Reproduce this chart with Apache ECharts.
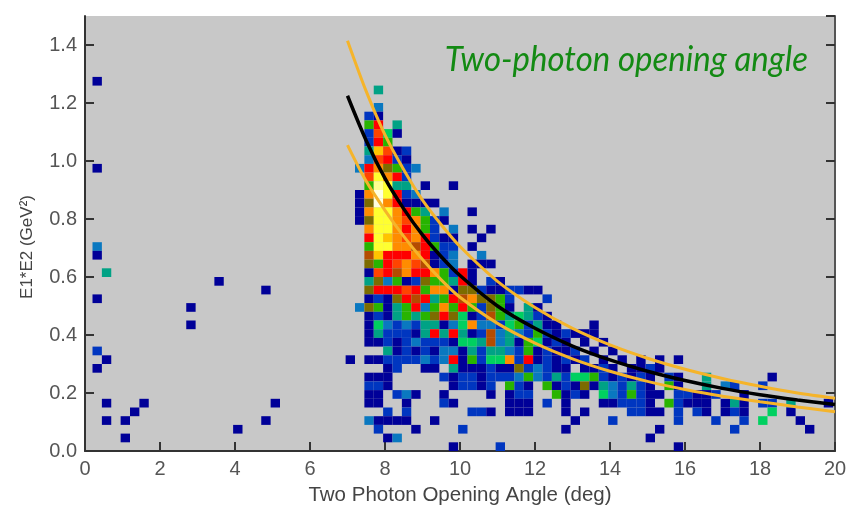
<!DOCTYPE html>
<html><head><meta charset="utf-8">
<script src="https://cdn.jsdelivr.net/npm/echarts@6/dist/echarts.min.js"></script>
<style>html,body{margin:0;padding:0;background:#fff}#c{width:862px;height:511px}</style>
</head><body><div id="c"></div>
<script>
// ---- binning of the 2D histogram ----
const xBinStart = 0.2, xBinWidth = 0.25, yBinHeight = 0.03;

// colour level per bin (hex digit 1..f, '.' empty); row strings from j=41 (top) to j=0, first column = 27
const clusterFirstColumn = 27;
const clusterTopRow = 41;
const clusterRows = [
  "...4",
  "",
  "...3",
  "..21",
  "..69.4",
  "..2a51",
  "..296",
  "..4ca12",
  "..3a921",
  ".39b7623",
  "..adb92",
  "..6ed44.1..1",
  ".1bfd923",
  ".17fb91111",
  ".1bddb964.3..1",
  ".17ddbab621",
  "..bddb9b62.3.1.1",
  "..9dcbab9211..1",
  "..6ddbb89622.1",
  "..8c999b9123..3",
  "..769aba8123.111",
  "..1a98b99b6291",
  "..473612766491.21",
  "..7999a96bb1772112211",
  "..12179894698b7762...2",
  ".376146936b6962761.41",
  "..12146467975128645421",
  "..15323244135b332562411...1",
  "..1422214949412834326212111",
  "..1121232221554834165121.1.1",
  "....412121331424432612112.1.1",
  "1.112222323916255b29121212.1.1.1.1.1",
  "....12..11.4111211723211.1121.1121",
  "..111.....21221222363242556212121.21..4......1",
  "..221......12212.621.612171432421.61..4.32..2",
  "..11.231..1....1.122..6121.5326211.22112..1",
  "..11..1...21.....111.2.1...112221.62111.141.22.4...1",
  "....2.2......221.111...1.1....2211.2.21.121..5.1",
  "..31111..1..............1...2......2...2..2.5...1",
  "...2...1....2..........1.........1.......2.......1",
  "....13..........................1",
  "...........1....2..................1"
];
// isolated bins at small angles: [column, row, level]
const sparseCells = [
  [0,42,1],[0,32,1],[0,23,3],[0,22,1],[1,20,4],[0,17,1],[10,16,1],[10,14,1],[13,19,1],[18,18,1],
  [0,11,2],[1,10,1],[0,9,1],[1,5,1],[1,3,1],[3,3,1],[4,4,1],[5,5,1],[3,1,1],[19,5,1],[18,3,1],[15,2,1]
];
const levelColors = ['', '#000098', '#0036c0', '#0a78c0', '#00a285', '#00d060', '#28b400', '#7c6c00',
  '#b44c00', '#ff0000', '#ff4400', '#ff8c00', '#ffc400', '#ffff30', '#ffff90', '#ffffe0'];

// ---- curves ----
const curveAngles = [7, 7.5, 8, 8.5, 9, 9.5, 10, 11, 12, 13, 14, 15, 16, 17, 18, 19, 20];
const centralCurve = [1.225, 1.07, 0.94, 0.835, 0.745, 0.67, 0.605, 0.50, 0.423, 0.362, 0.314, 0.275, 0.243, 0.216, 0.194, 0.176, 0.16];
const upperCurve = [1.415, 1.24, 1.09, 0.97, 0.865, 0.78, 0.705, 0.585, 0.495, 0.423, 0.366, 0.32, 0.282, 0.25, 0.223, 0.2, 0.182];
const lowerCurve = [1.055, 0.93, 0.83, 0.74, 0.66, 0.59, 0.53, 0.44, 0.372, 0.318, 0.275, 0.24, 0.212, 0.189, 0.17, 0.152, 0.1355];

const xTitle = 'Two Photon Opening Angle (deg)';
const yTitle = 'E1*E2 (GeV²)';
const annotation = 'Two-photon opening angle';

// build histogram data
const cells = [];
clusterRows.forEach((row, r) => {
  const j = clusterTopRow - r;
  for (let k = 0; k < row.length; k++) {
    const ch = row[k];
    if (ch === '.') continue;
    const i = clusterFirstColumn + k;
    cells.push([xBinStart + i * xBinWidth, j * yBinHeight, parseInt(ch, 16)]);
  }
});
sparseCells.forEach(c => cells.push([xBinStart + c[0] * xBinWidth, c[1] * yBinHeight, c[2]]));

const zip = (xs, ys) => xs.map((x, k) => [x, ys[k]]);
const axisColor = '#333';
const labelFont = 'Liberation Sans';

const chart = echarts.init(document.getElementById('c'));
chart.setOption({
  animation: false,
  backgroundColor: '#ffffff',
  grid: { left: 85, right: 27, top: 16, bottom: 60, show: true, backgroundColor: '#c8c8c8', borderWidth: 0, outerBoundsMode: 'none' },
  xAxis: [{
    type: 'value', min: 0, max: 20, interval: 2,
    name: xTitle, nameLocation: 'middle', nameGap: 34,
    nameTextStyle: { fontFamily: labelFont, fontSize: 20.5, color: '#444' },
    axisLine: { show: true, lineStyle: { color: axisColor, width: 2 } },
    axisTick: { show: true, inside: true, length: 9, lineStyle: { color: axisColor, width: 2 } },
    axisLabel: { fontFamily: labelFont, fontSize: 20, color: '#555', margin: 8 },
    splitLine: { show: false }
  }],
  yAxis: [{
    type: 'value', min: 0, max: 1.5, interval: 0.2,
    axisLine: { show: true, lineStyle: { color: axisColor, width: 2 } },
    axisTick: { show: true, inside: true, length: 9, lineStyle: { color: axisColor, width: 2 } },
    axisLabel: { fontFamily: labelFont, fontSize: 20, color: '#555', margin: 8, showMaxLabel: false,
      formatter: v => (Math.abs(v - 1.5) < 1e-6 ? '' : v.toFixed(1)) },
    splitLine: { show: false }
  }, {
    type: 'value', min: 0, max: 1.5, interval: 0.2, position: 'right',
    axisLine: { show: true, lineStyle: { color: '#555', width: 2 } },
    axisTick: { show: true, inside: true, length: 9, lineStyle: { color: axisColor, width: 2 } },
    axisLabel: { show: false }, splitLine: { show: false }
  }],
  series: [{
    type: 'custom', clip: true, z: 2,
    data: cells,
    renderItem: (params, api) => {
      const x0 = api.value(0), y0 = api.value(1);
      const p1 = api.coord([x0, y0 + yBinHeight]);
      const p2 = api.coord([x0 + xBinWidth, y0]);
      return { type: 'rect', shape: { x: p1[0], y: p1[1], width: p2[0] - p1[0], height: p2[1] - p1[1] },
        style: { fill: levelColors[api.value(2)] } };
    }
  }, {
    type: 'line', z: 4, smooth: 0.3, showSymbol: false, data: zip(curveAngles, upperCurve),
    lineStyle: { color: '#f5b42a', width: 3 }
  }, {
    type: 'line', z: 4, smooth: 0.3, showSymbol: false, data: zip(curveAngles, lowerCurve),
    lineStyle: { color: '#f5b42a', width: 3 }
  }, {
    type: 'line', z: 5, smooth: 0.3, showSymbol: false, data: zip(curveAngles, centralCurve),
    lineStyle: { color: '#000', width: 3.5 }
  }],
  graphic: [{
    type: 'text', x: 808, y: 60, scaleX: 0.97, z: 10,
    style: { x: 0, y: 0, text: annotation, textAlign: 'right', textVerticalAlign: 'middle',
      font: 'italic 34px Lato', fill: '#138a13' }
  }, {
    type: 'text', x: 27, y: 247, rotation: Math.PI / 2, z: 10,
    style: { x: 0, y: 0, text: yTitle, textAlign: 'center', textVerticalAlign: 'middle',
      font: '17px "Liberation Sans"', fill: '#444' }
  }]
});
</script></body></html>
